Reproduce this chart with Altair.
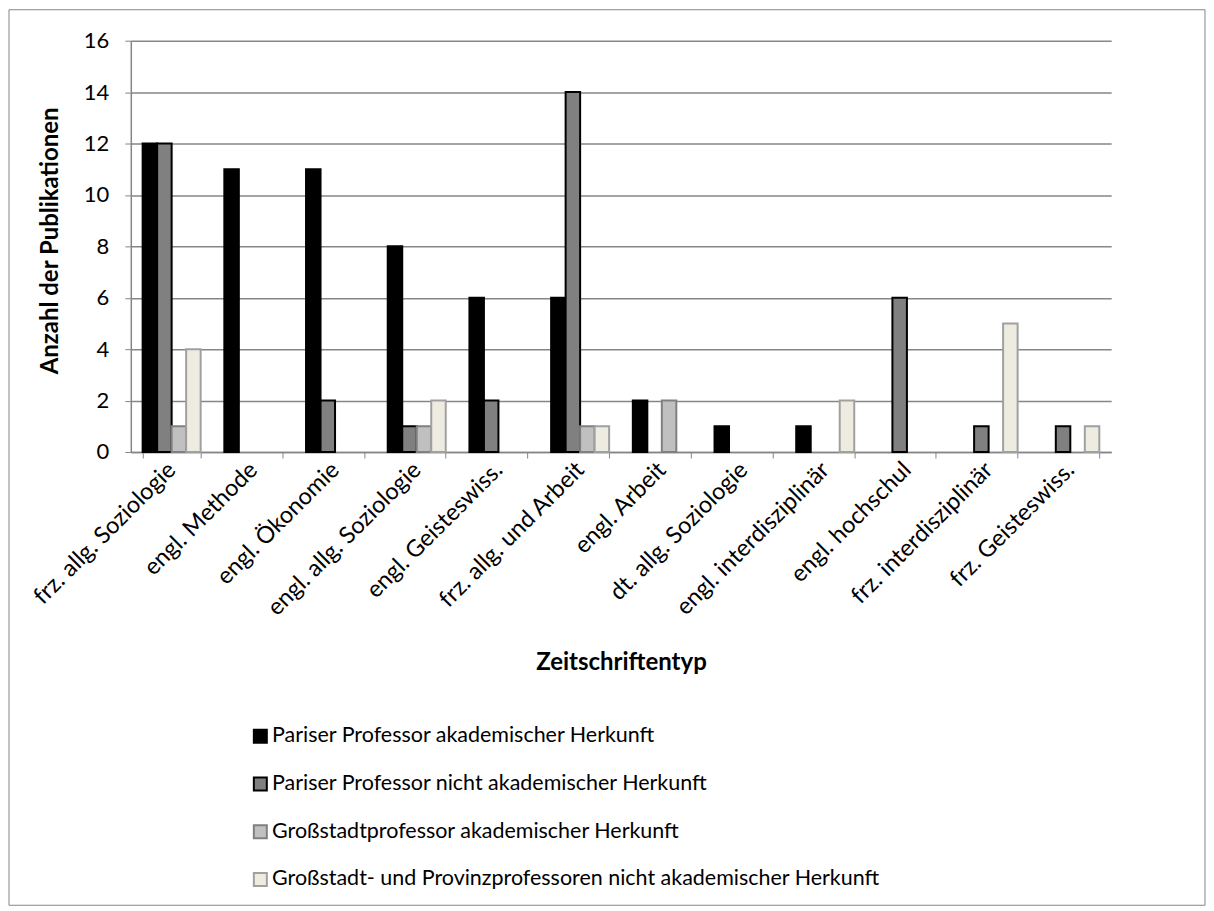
import altair as alt
import pandas as pd

categories = [
    "frz. allg. Soziologie", "engl. Methode", "engl. Ökonomie",
    "engl. allg. Soziologie", "engl. Geisteswiss.", "frz. allg. und Arbeit",
    "engl. Arbeit", "dt. allg. Soziologie", "engl. interdisziplinär",
    "engl. hochschul", "frz. interdisziplinär", "frz. Geisteswiss.",
]
series = [
    "Pariser Professor akademischer Herkunft",
    "Pariser Professor nicht akademischer Herkunft",
    "Großstadtprofessor akademischer Herkunft",
    "Großstadt- und Provinzprofessoren nicht akademischer Herkunft",
]
paris_akad = [12, 11, 11, 8, 6, 6, 2, 1, 1, 0, 0, 0]
paris_nicht = [12, 0, 2, 1, 2, 14, 0, 0, 0, 6, 1, 1]
gross_akad = [1, 0, 0, 1, 0, 1, 2, 0, 0, 0, 0, 0]
provinz_nicht = [4, 0, 0, 2, 0, 1, 0, 0, 2, 0, 5, 1]
y_ticks = [0, 2, 4, 6, 8, 10, 12, 14, 16]

fills = ["#000000", "#808080", "#c0c0c0", "#eeece1"]
strokes = ["#000000", "#000000", "#808080", "#a0a0a0"]

rows = []
for s, vals in zip(series, [paris_akad, paris_nicht, gross_akad, provinz_nicht]):
    for c, v in zip(categories, vals):
        rows.append({"cat": c, "series": s, "value": v})
df = pd.DataFrame(rows)

FONT = "Lato"
XLBL = 23.5
YLBL = 22
LEG = 21.5
TTL = 24

bars = alt.Chart(df).transform_filter("datum.value > 0").mark_bar(strokeWidth=2).encode(
    x=alt.X("cat:N", sort=categories,
            scale=alt.Scale(paddingInner=0.29, paddingOuter=0.145),
            axis=alt.Axis(title="Zeitschriftentyp", labelAngle=-45, labelAlign="right",
                          labelBaseline="middle", labelFontSize=XLBL, labelFont=FONT,
                          labelColor="#000000", labelPadding=8, labelLimit=400,
                          tickBand="extent", tickSize=6, tickColor="#868686",
                          domainColor="#868686", domainWidth=1.5, grid=False,
                          titleFont=FONT, titleFontSize=TTL, titleFontWeight="bold",
                          titleColor="#000000", titleBaseline="middle", titleY=211)),
    xOffset=alt.XOffset("series:N", sort=series, scale=alt.Scale(paddingInner=0, paddingOuter=0)),
    y=alt.Y("value:Q", scale=alt.Scale(domain=[0, 16]),
            axis=alt.Axis(title="Anzahl der Publikationen", values=y_ticks, labelFontSize=YLBL,
                          labelFont=FONT, labelColor="#000000", labelPadding=16,
                          tickSize=6, tickColor="#868686", domainColor="#868686",
                          domainWidth=1.5, gridColor="#868686", gridWidth=1.5,
                          titleFont=FONT, titleFontSize=TTL, titleFontWeight="bold",
                          titleColor="#000000", titleBaseline="middle",
                          titleX=-80, titleY=200)),
    fill=alt.Fill("series:N", sort=series,
                  scale=alt.Scale(domain=series, range=fills),
                  legend=alt.Legend(title=None, orient="none", legendX=119, legendY=686,
                                    direction="vertical", symbolType="square",
                                    symbolSize=169, symbolStrokeWidth=2,
                                    labelFont=FONT, labelFontSize=LEG, labelColor="#000000",
                                    rowPadding=24.8, labelOffset=1, padding=0, labelLimit=700)),
    stroke=alt.Stroke("series:N", sort=series,
                      scale=alt.Scale(domain=series, range=strokes)),
)

frame = alt.Chart(pd.DataFrame({"a": [0]})).mark_rect(
    fill="transparent", stroke="#868686", strokeWidth=1
).encode(x=alt.value(-122), x2=alt.value(1076), y=alt.value(-31), y2=alt.value(866))

chart = alt.layer(frame, bars).properties(
    width=982, height=412, padding=0, background="white"
).configure_view(strokeWidth=0)

chart.save("out.html", embed_options={"renderer": "svg", "actions": False})
